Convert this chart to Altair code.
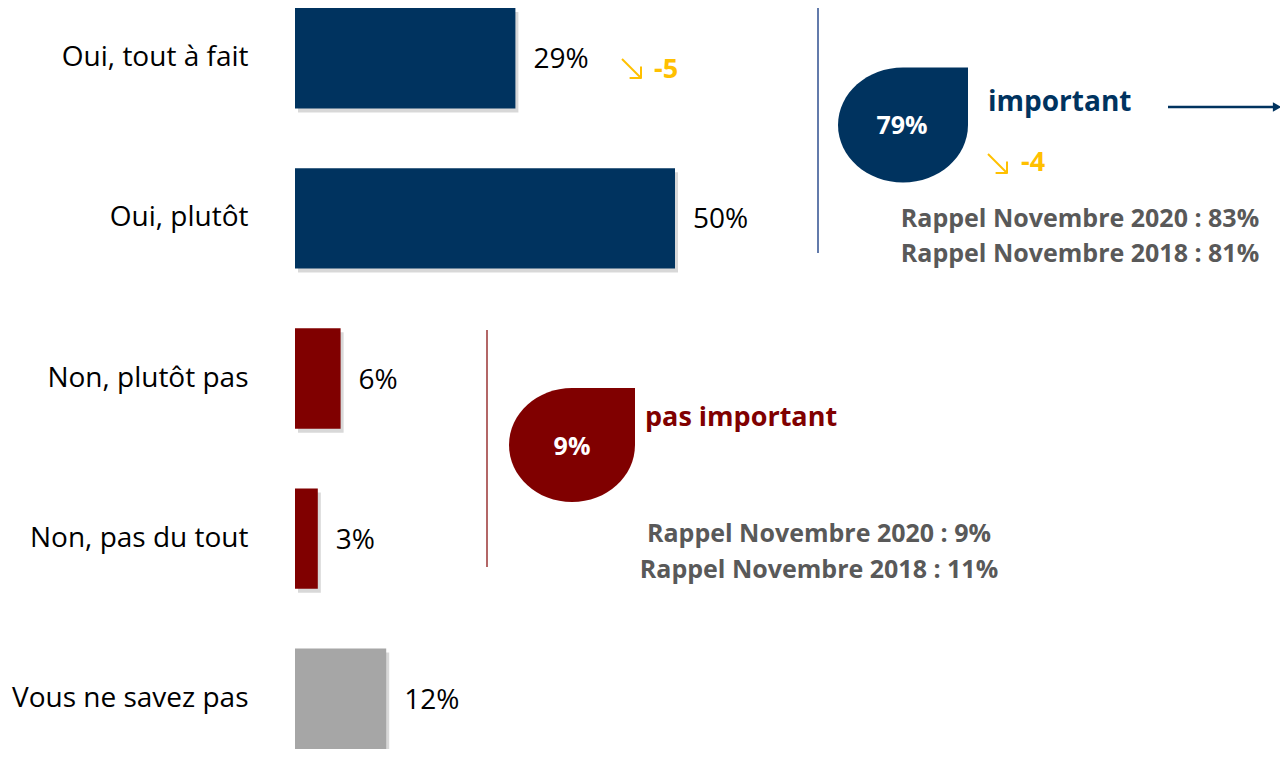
import altair as alt
import pandas as pd

categories = ["Oui, tout à fait", "Oui, plutôt", "Non, plutôt pas", "Non, pas du tout", "Vous ne savez pas"]
values = [29, 50, 6, 3, 12]
bar_colors = ["#00335F", "#00335F", "#800000", "#800000", "#A6A6A6"]

evol_top = "-5"
net_imp_label = "important"
net_imp_evol = "-4"
net_imp_rappel = ["Rappel Novembre 2020 : 83%", "Rappel Novembre 2018 : 81%"]
net_pas_label = "pas important"
net_pas_rappel = ["Rappel Novembre 2020 : 9%", "Rappel Novembre 2018 : 11%"]

FONT = "Open Sans"
NAVY = "#00335F"
RED = "#800000"
GOLD = "#FFC000"
GREY_TXT = "#595959"

df = pd.DataFrame({"cat": categories, "val": values,
                   "lab": [f"{v}%" for v in values]})

W, H = 985, 741
xs = alt.Scale(domain=[0, W / 7.6], nice=False, zero=True)
ys = alt.Scale(domain=categories, paddingInner=0.373, paddingOuter=0)
yenc = alt.Y("cat:N", scale=ys, sort=categories,
             axis=alt.Axis(title=None, ticks=False, domain=False, grid=False,
                           labelFont=FONT, labelFontSize=28, labelColor="#000000",
                           labelPadding=47, labelLimit=400))
xenc = alt.X("val:Q", scale=xs, axis=None)

base = alt.Chart(df)
shadow = base.mark_bar(color="#7F7F7F", opacity=0.3, xOffset=3, yOffset=4).encode(x=xenc, y=yenc)
bars = base.mark_bar().encode(
    x=xenc, y=yenc,
    color=alt.Color("cat:N", scale=alt.Scale(domain=categories, range=bar_colors), legend=None))
labels = base.mark_text(align="left", baseline="middle", dx=18, dy=2, font=FONT,
                        fontSize=28, color="#000000").encode(x=xenc, y=yenc, text="lab:N")


def txt(s, x, y, **kw):
    return alt.Chart(pd.DataFrame({"t": [s]})).mark_text(**kw).encode(
        x=alt.value(x), y=alt.value(y), text="t:N")


def seg(x1, y1, x2, y2, color, w):
    return alt.Chart(pd.DataFrame({"d": [1]})).mark_rule(color=color, strokeWidth=w).encode(
        x=alt.value(x1), y=alt.value(y1), x2=alt.value(x2), y2=alt.value(y2))


def down_arrow(x, y, s=19):
    # "↘" glyph drawn as three strokes, anchored at its top-left corner
    return [seg(x, y, x + s, y + s, GOLD, 2),
            seg(x + s * 0.4, y + s, x + s + 0.5, y + s, GOLD, 2),
            seg(x + s, y + s * 0.4, x + s, y + s + 0.5, GOLD, 2)]


k = 0.5523


def drop_path(h):
    return (f"M 0,{-h} L 1,{-h} L 1,0 C 1,{k*h:.4f} {k},{h} 0,{h} "
            f"C {-k},{h} -1,{k*h:.4f} -1,0 C -1,{-k*h:.4f} {-k},{-h} 0,{-h} Z")


def drop(x, y, w, h_ratio, color):
    return alt.Chart(pd.DataFrame({"d": [1]})).mark_point(
        shape=drop_path(h_ratio), filled=True, fill=color, color=color, opacity=1,
        strokeWidth=0, size=w * w).encode(x=alt.value(x), y=alt.value(y))


net_imp = f"{values[0] + values[1]}%"
net_pas = f"{values[2] + values[3]}%"

vline_navy = seg(523, -8, 523, 245, "#2F4F8F", 1.5)
vline_red = seg(192, 322, 192, 559, RED, 1.2)

arrow_line = alt.Chart(pd.DataFrame({"d": [1]})).mark_rule(color=NAVY, strokeWidth=2.5).encode(
    x=alt.value(873), x2=alt.value(980), y=alt.value(99))
arrow_head = alt.Chart(pd.DataFrame({"d": [1]})).mark_point(
    shape="triangle-right", filled=True, color=NAVY, opacity=1, size=90).encode(
    x=alt.value(982), y=alt.value(99))

bold = dict(font=FONT, fontWeight="bold", baseline="middle")

layers = [
    shadow, bars, labels,
    vline_navy, vline_red,
    *down_arrow(327, 51),
    txt(evol_top, 359, 62, fontSize=27, color=GOLD, align="left", **bold),
    drop(608, 117, 130, 0.885, NAVY),
    txt(net_imp, 607, 118, fontSize=25, color="#FFFFFF", align="center", **bold),
    txt(net_imp_label, 693, 95, fontSize=28, color=NAVY, align="left", **bold),
    arrow_line, arrow_head,
    *down_arrow(693, 146),
    txt(net_imp_evol, 726, 155, fontSize=27, color=GOLD, align="left", **bold),
    txt(net_imp_rappel[0], 785, 211, fontSize=25, color=GREY_TXT, align="center", **bold),
    txt(net_imp_rappel[1], 785, 246, fontSize=25, color=GREY_TXT, align="center", **bold),
    drop(277, 437, 126, 0.905, RED),
    txt(net_pas, 277, 439, fontSize=25, color="#FFFFFF", align="center", **bold),
    txt(net_pas_label, 350, 410, fontSize=27, color=RED, align="left", **bold),
    txt(net_pas_rappel[0], 524, 526, fontSize=25, color=GREY_TXT, align="center", **bold),
    txt(net_pas_rappel[1], 524, 562, fontSize=25, color=GREY_TXT, align="center", **bold),
]

chart = alt.layer(*layers).properties(
    width=W, height=H,
    background="#FFFFFF",
    autosize=alt.AutoSizeParams(type="none"),
    padding={"left": 287, "top": 0, "right": 0, "bottom": 0},
).configure_view(stroke="transparent", strokeWidth=0).configure_axis(
    domain=False, grid=False, ticks=False
)

chart.save("out.html", embed_options={"renderer": "svg", "actions": False})
